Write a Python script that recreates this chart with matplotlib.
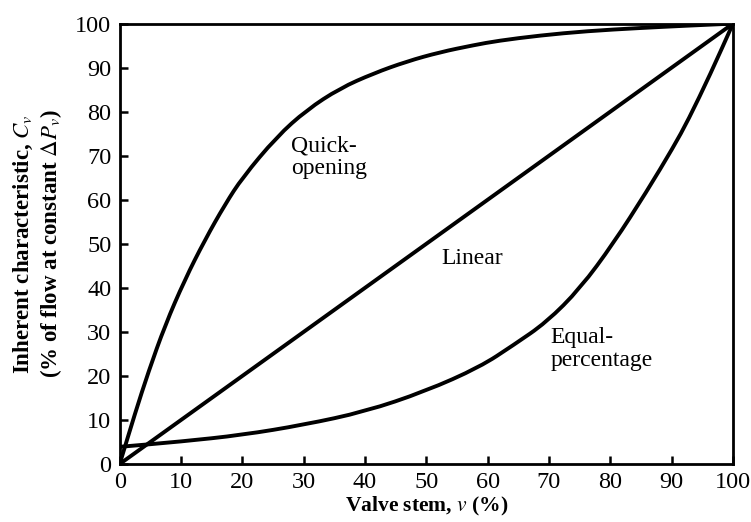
import matplotlib
matplotlib.use("Agg")
import matplotlib.pyplot as plt
from matplotlib.path import Path
from matplotlib.patches import PathPatch

# valve stem position (%) and inherent flow characteristic (%)
linear_v = [0, 100]
linear_cv = [0, 100]

quick_v = [0, 2.5, 4.7, 7.4, 10.6, 13.9, 17.2, 20.0, 25.6, 30.5, 35.9, 41.4,
           46.8, 52.2, 57.7, 61.7, 68.5, 76.2, 84.8, 92, 100]
quick_cv = [0, 11.5, 21, 31.5, 41.8, 50.9, 59.0, 65.0, 74.3, 80.4, 85.3, 88.7,
            91.4, 93.5, 95.1, 96.1, 97.3, 98.3, 99.0, 99.5, 100]

equal_v = [0, 10, 20, 30, 40, 49.8, 58.7, 64.2, 69.6, 75.1, 80.5, 85.9, 90.3, 92.7, 96.3, 100]
equal_cv = [3.9, 5.1, 6.6, 8.9, 11.9, 16.5, 22.0, 27.0, 32.2, 39.9, 50.1, 61.8, 72, 78.1, 88.5, 100]

ticks = [0, 10, 20, 30, 40, 50, 60, 70, 80, 90, 100]


def smooth_path(xs, ys):
    """Quadratic Bezier segments through the midpoints, control at each reading."""
    pts = list(zip(xs, ys))
    if len(pts) < 3:
        return Path(pts, [Path.MOVETO] + [Path.LINETO] * (len(pts) - 1))
    verts = [pts[0]]
    codes = [Path.MOVETO]
    mid = ((pts[0][0] + pts[1][0]) / 2, (pts[0][1] + pts[1][1]) / 2)
    verts.append(mid)
    codes.append(Path.LINETO)
    for i in range(1, len(pts) - 1):
        nxt = ((pts[i][0] + pts[i + 1][0]) / 2, (pts[i][1] + pts[i + 1][1]) / 2)
        verts += [pts[i], nxt]
        codes += [Path.CURVE3, Path.CURVE3]
    verts.append(pts[-1])
    codes.append(Path.LINETO)
    return Path(verts, codes)


plt.rcParams['font.family'] = ['Liberation Serif', 'DejaVu Serif']
plt.rcParams['mathtext.fontset'] = 'stix'

fig = plt.figure(figsize=(7.51, 5.22), dpi=100)
ax = fig.add_axes([0.1594, 0.1111, 0.8166, 0.8437])

lw = 2.8
for xs, ys in [(quick_v, quick_cv), (linear_v, linear_cv), (equal_v, equal_cv)]:
    ax.add_patch(PathPatch(smooth_path(xs, ys), fill=False, edgecolor='black',
                           lw=lw, capstyle='butt', joinstyle='round'))

ax.text(28, 74.5, "Quick-\nopening", fontsize=17, va='top', ha='left', linespacing=1.1)
ax.text(57.4, 46.7, "Linear", fontsize=17, va='center', ha='center')
ax.text(70.2, 31, "Equal-\npercentage", fontsize=17, va='top', ha='left', linespacing=1.1)

ax.set_xlim(0, 100)
ax.set_ylim(0, 100)
ax.set_xticks(ticks)
ax.set_yticks(ticks)
ax.tick_params(direction='in', length=6, width=1.8, labelsize=17.5, pad=6,
               top=False, right=False)
for s in ax.spines.values():
    s.set_linewidth(2)
    s.set_color('black')

ax.set_xlabel("Valve stem, $v$ (%)", fontsize=15.5, fontweight='bold', labelpad=1)
ax.set_ylabel("Inherent characteristic, $C_v$\n(% of flow at constant $\\Delta P_v$)",
              fontsize=16.5, fontweight='bold', labelpad=8, linespacing=1.15)

fig.savefig("out.png", dpi=100)
